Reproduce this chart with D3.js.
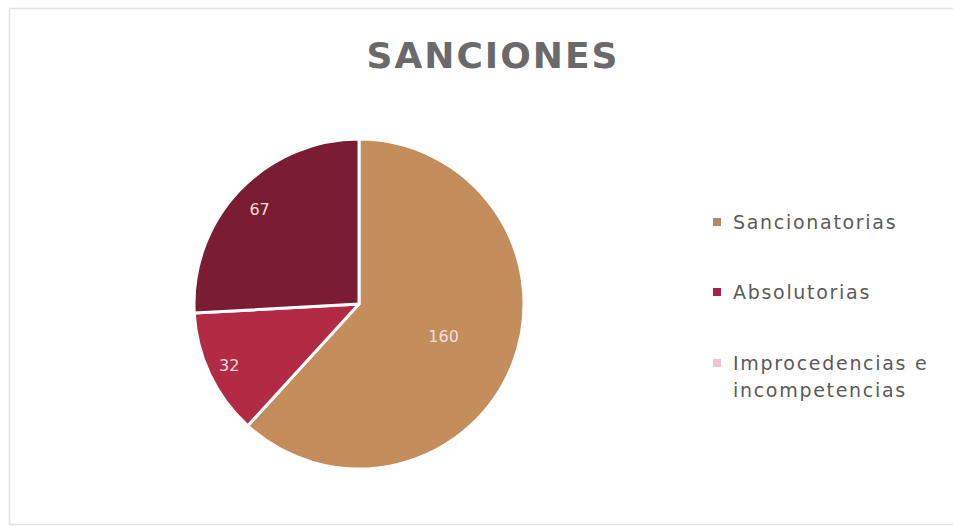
<!DOCTYPE html>
<html>
<head>
<meta charset="utf-8">
<script src="https://cdn.jsdelivr.net/npm/d3@7"></script>
<style>
  body { margin: 0; background: #ffffff; }
  svg { display: block; }
</style>
</head>
<body>
<svg id="chart" width="953" height="527"></svg>
<script>
// data
let categories = ["Sancionatorias", "Absolutorias", "Improcedencias e incompetencias"];
let values = [160, 32, 67];
let valueLabels = ["160", "32", "67"];
let legendLines = [["Sancionatorias"], ["Absolutorias"], ["Improcedencias e", "incompetencias"]];

// General Variables
let chart = d3.select("#chart");
let cx = 359, cy = 304, radius = 165;

// frame
chart.append("rect")
    .attr("x", 9.5).attr("y", 8.5)
    .attr("width", 960).attr("height", 516)
    .attr("fill", "none")
    .attr("stroke", "#e2e2e2")
    .attr("stroke-width", 1.5);

chart.append("text")
    .text("SANCIONES")
    .attr("x", 493)
    .attr("y", 68)
    .style("text-anchor", "middle")
    .style("font-family", "'DejaVu Sans', sans-serif")
    .style("font-weight", 700)
    .style("font-size", "36px")
    .style("letter-spacing", "2px")
    .style("fill", "#6a6a6a");

let sliceColor = d3.scaleOrdinal()
    .domain(categories)
    .range(["#c38d5c", "#b22a44", "#7b1d32"]);

let legendColor = d3.scaleOrdinal()
    .domain(categories)
    .range(["#b38a68", "#a81f45", "#f2c4d2"]);

// excel "best fit" label spots, as a share of the radius
let labelSpot = [0.55, 0.87, 0.83];

let g = chart.append("g")
    .attr("transform", "translate(" + cx + "," + cy + ")");

let pie = d3.pie().sort(null).value(function(d) { return d; });
let arcs = pie(values);

let path = d3.arc().outerRadius(radius).innerRadius(0);

g.selectAll("path.slice")
    .data(arcs)
    .enter()
    .append("path")
    .attr("class", "slice")
    .attr("d", path)
    .attr("fill", function(d, i) { return sliceColor(categories[i]); })
    .attr("stroke", "#ffffff")
    .style("stroke-width", "3px")
    .style("stroke-linejoin", "round");

g.selectAll("text.val")
    .data(arcs)
    .enter()
    .append("text")
    .attr("class", "val")
    .attr("transform", function(d, i) {
        let r = radius * labelSpot[i];
        let lab = d3.arc().outerRadius(r).innerRadius(r);
        return "translate(" + lab.centroid(d) + ")";
    })
    .text(function(d, i) { return valueLabels[i]; })
    .style("text-anchor", "middle")
    .attr("dy", "0.35em")
    .style("font-family", "'DejaVu Sans', sans-serif")
    .style("font-size", "16px")
    .style("fill", "#f3dede");

// legend
let legY = [222, 292, 363];
let leg = chart.selectAll("g.leg")
    .data(categories)
    .enter()
    .append("g")
    .attr("class", "leg")
    .attr("transform", function(d, i) { return "translate(713," + legY[i] + ")"; });

leg.append("rect")
    .attr("x", 0).attr("y", -4)
    .attr("width", 8).attr("height", 8)
    .attr("fill", function(d) { return legendColor(d); });

leg.each(function(d, i) {
    let t = d3.select(this).append("text")
        .attr("x", 20)
        .attr("y", 0)
        .style("font-family", "'DejaVu Sans', sans-serif")
        .style("font-size", "19px")
        .style("letter-spacing", "1.7px")
        .style("fill", "#5a5a5a");
    legendLines[i].forEach(function(line, j) {
        t.append("tspan")
            .attr("x", 20)
            .attr("dy", j == 0 ? "0.35em" : "1.45em")
            .text(line);
    });
});
</script>
</body>
</html>
